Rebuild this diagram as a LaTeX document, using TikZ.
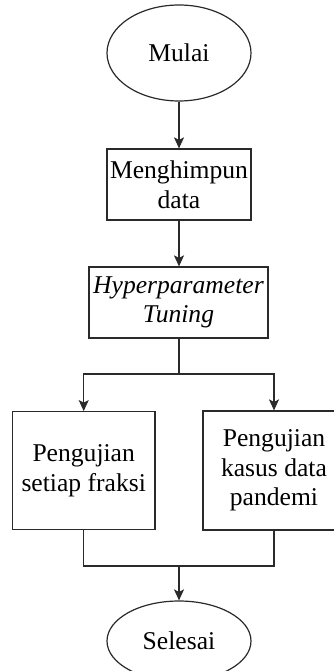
\documentclass[tikz,border=0pt]{standalone}
\usepackage{fontspec}
\setmainfont{Liberation Serif}
\usetikzlibrary{arrows.meta,shapes.geometric}
\definecolor{linec}{HTML}{2A2A2A}
\begin{document}
\begin{tikzpicture}[x=1pt,y=-1pt,
  every node/.style={font=\fontsize{25.6}{29.5}\selectfont, text=black},
  boxnode/.style={draw=linec, line width=1.2pt, rectangle, align=center, inner sep=0pt},
  ovalnode/.style={draw=linec, line width=1.2pt, ellipse, inner sep=0pt, minimum width=144pt, minimum height=96pt},
  conn/.style={draw=linec, line width=1.2pt},
  arr/.style={conn, -{Stealth[length=11pt,width=10pt,inset=2.5pt]}}]
\useasboundingbox (0,0) rectangle (334,671);
\clip (0,0) rectangle (334,671);
\node[ovalnode] (start) at (179,53) {Mulai};
\node[boxnode, minimum width=144pt, minimum height=71pt] (b1) at (179,184.5) {Menghimpun\\data};
\node[boxnode, minimum width=179pt, minimum height=71pt] (b2) at (178.5,302.5) {\textit{Hyperparameter}\\\textit{Tuning}};
\node[boxnode, minimum width=142.5pt, minimum height=118pt] (b3) at (83.7,470.7) {Pengujian\\setiap fraksi};
\node[boxnode, minimum width=142pt, minimum height=119pt] (b4) at (274,470.5) {Pengujian\\kasus data\\pandemi};
\node[ovalnode, minimum height=80pt] (end) at (179,641) {Selesai};
\coordinate (split) at (179,374);
\coordinate (join) at (179,566);
\draw[arr] (start.south) -- (b1.north);
\draw[arr] (b1.south) -- (b1.south |- b2.north);
\draw[conn] (b1.south |- b2.south) -- (split);
\draw[arr] (split) -| (b3.north);
\draw[arr] (split) -| (b4.north);
\draw[conn] (b3.south) |- (join);
\draw[conn] (b4.south) |- (join);
\draw[arr] (join) -- (end.north);
\end{tikzpicture}
\end{document}
